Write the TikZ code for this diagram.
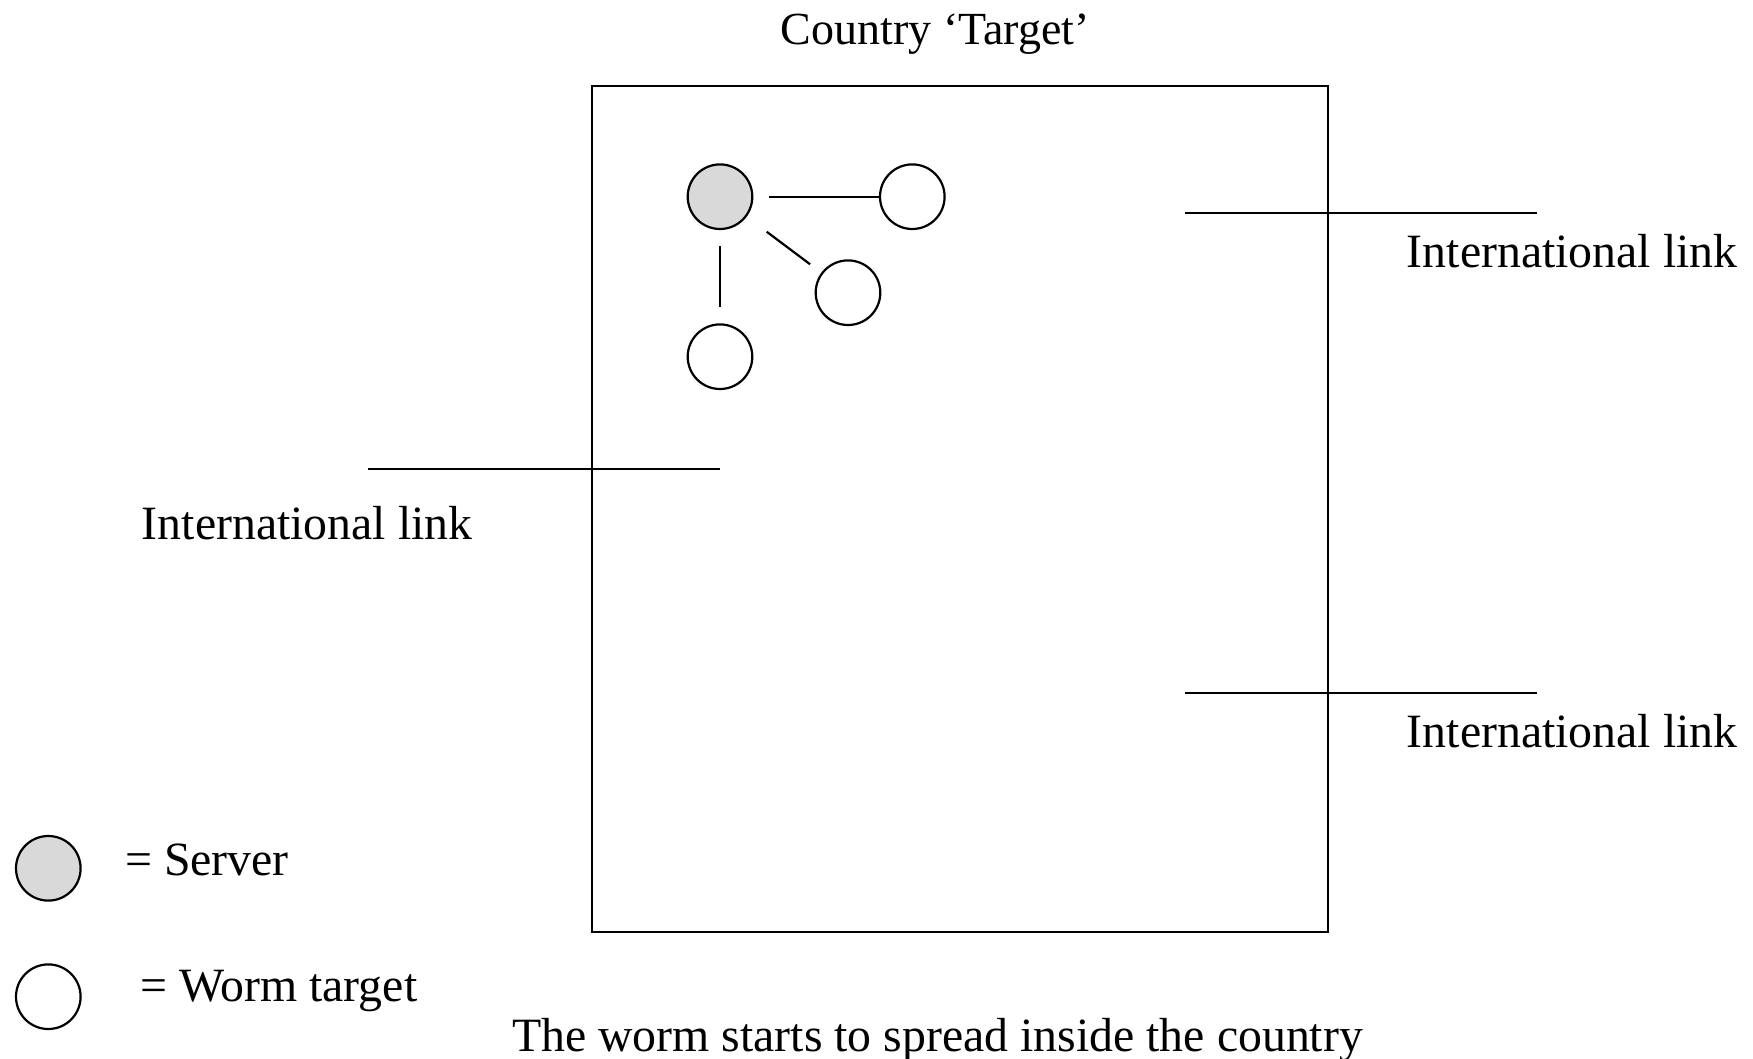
\documentclass[tikz,border=0pt]{standalone}
\usepackage{fontspec}
\setmainfont{Liberation Serif}
\begin{document}
\begin{tikzpicture}[x=1pt,y=-1pt,
  every node/.style={font=\fontsize{47.8}{57}\selectfont, text=black},
  line/.style={draw=black, line width=2.2pt},
  host/.style={circle, draw=black, line width=2.2pt, minimum size=64.6pt, inner sep=0pt},
  server/.style={host, fill=black!15},
  target/.style={host, fill=white},
  label/.style={anchor=base west, inner sep=0pt},
  caption/.style={anchor=base, inner sep=0pt}]
  % canvas
  \fill[white] (0,0) rectangle (1753,1059);
  \useasboundingbox (0,0) rectangle (1753,1059);

  % country border
  \node[draw=black, line width=2.2pt, minimum width=736pt, minimum height=846.6pt,
        inner sep=0pt] (country) at (960.3,509) {};
  \node[caption, font=\fontsize{46}{55}\selectfont] (title) at (935.4,45) {Country ‘Target’};
  \node[caption] (caption) at (937.5,1051) {The worm starts to spread inside the country};

  % international links crossing the border
  \coordinate (l1a) at (1185,212.7);  \coordinate (l1b) at (1536.7,212.7);
  \coordinate (l2a) at (1185,692.7);  \coordinate (l2b) at (1536.7,692.7);
  \coordinate (l3a) at (368.3,469);   \coordinate (l3b) at (720,469);
  \draw[line] (l1a) -- (l1b);
  \draw[line] (l2a) -- (l2b);
  \draw[line] (l3a) -- (l3b);
  \node[label] (link1) at (1406.7,267.3) {International link};
  \node[label] (link2) at (1406.7,747.3) {International link};
  \node[label] (link3) at (141.7,539.3) {International link};

  % infected server and its first targets
  \node[server] (srv) at (720,196.7) {};
  \node[target] (t1) at (912.3,196.7) {};
  \node[target] (t2) at (848,292.7) {};
  \node[target] (t3) at (720,356.7) {};
  \draw[line, shorten <=16pt] (srv) -- (t1);
  \draw[line, shorten <=25pt, shorten >=14pt] (srv) -- (t2);
  \draw[line, shorten <=16pt, shorten >=16pt] (srv) -- (t3);

  % legend
  \node[server] (keysrv) at (48.3,868.3) {};
  \node[target] (keytgt) at (48.3,996.7) {};
  \node[label] (keysrvtext) at (125,875) {= Server};
  \node[label] (keytgttext) at (140,1001.7) {= Worm target};
\end{tikzpicture}
\end{document}
